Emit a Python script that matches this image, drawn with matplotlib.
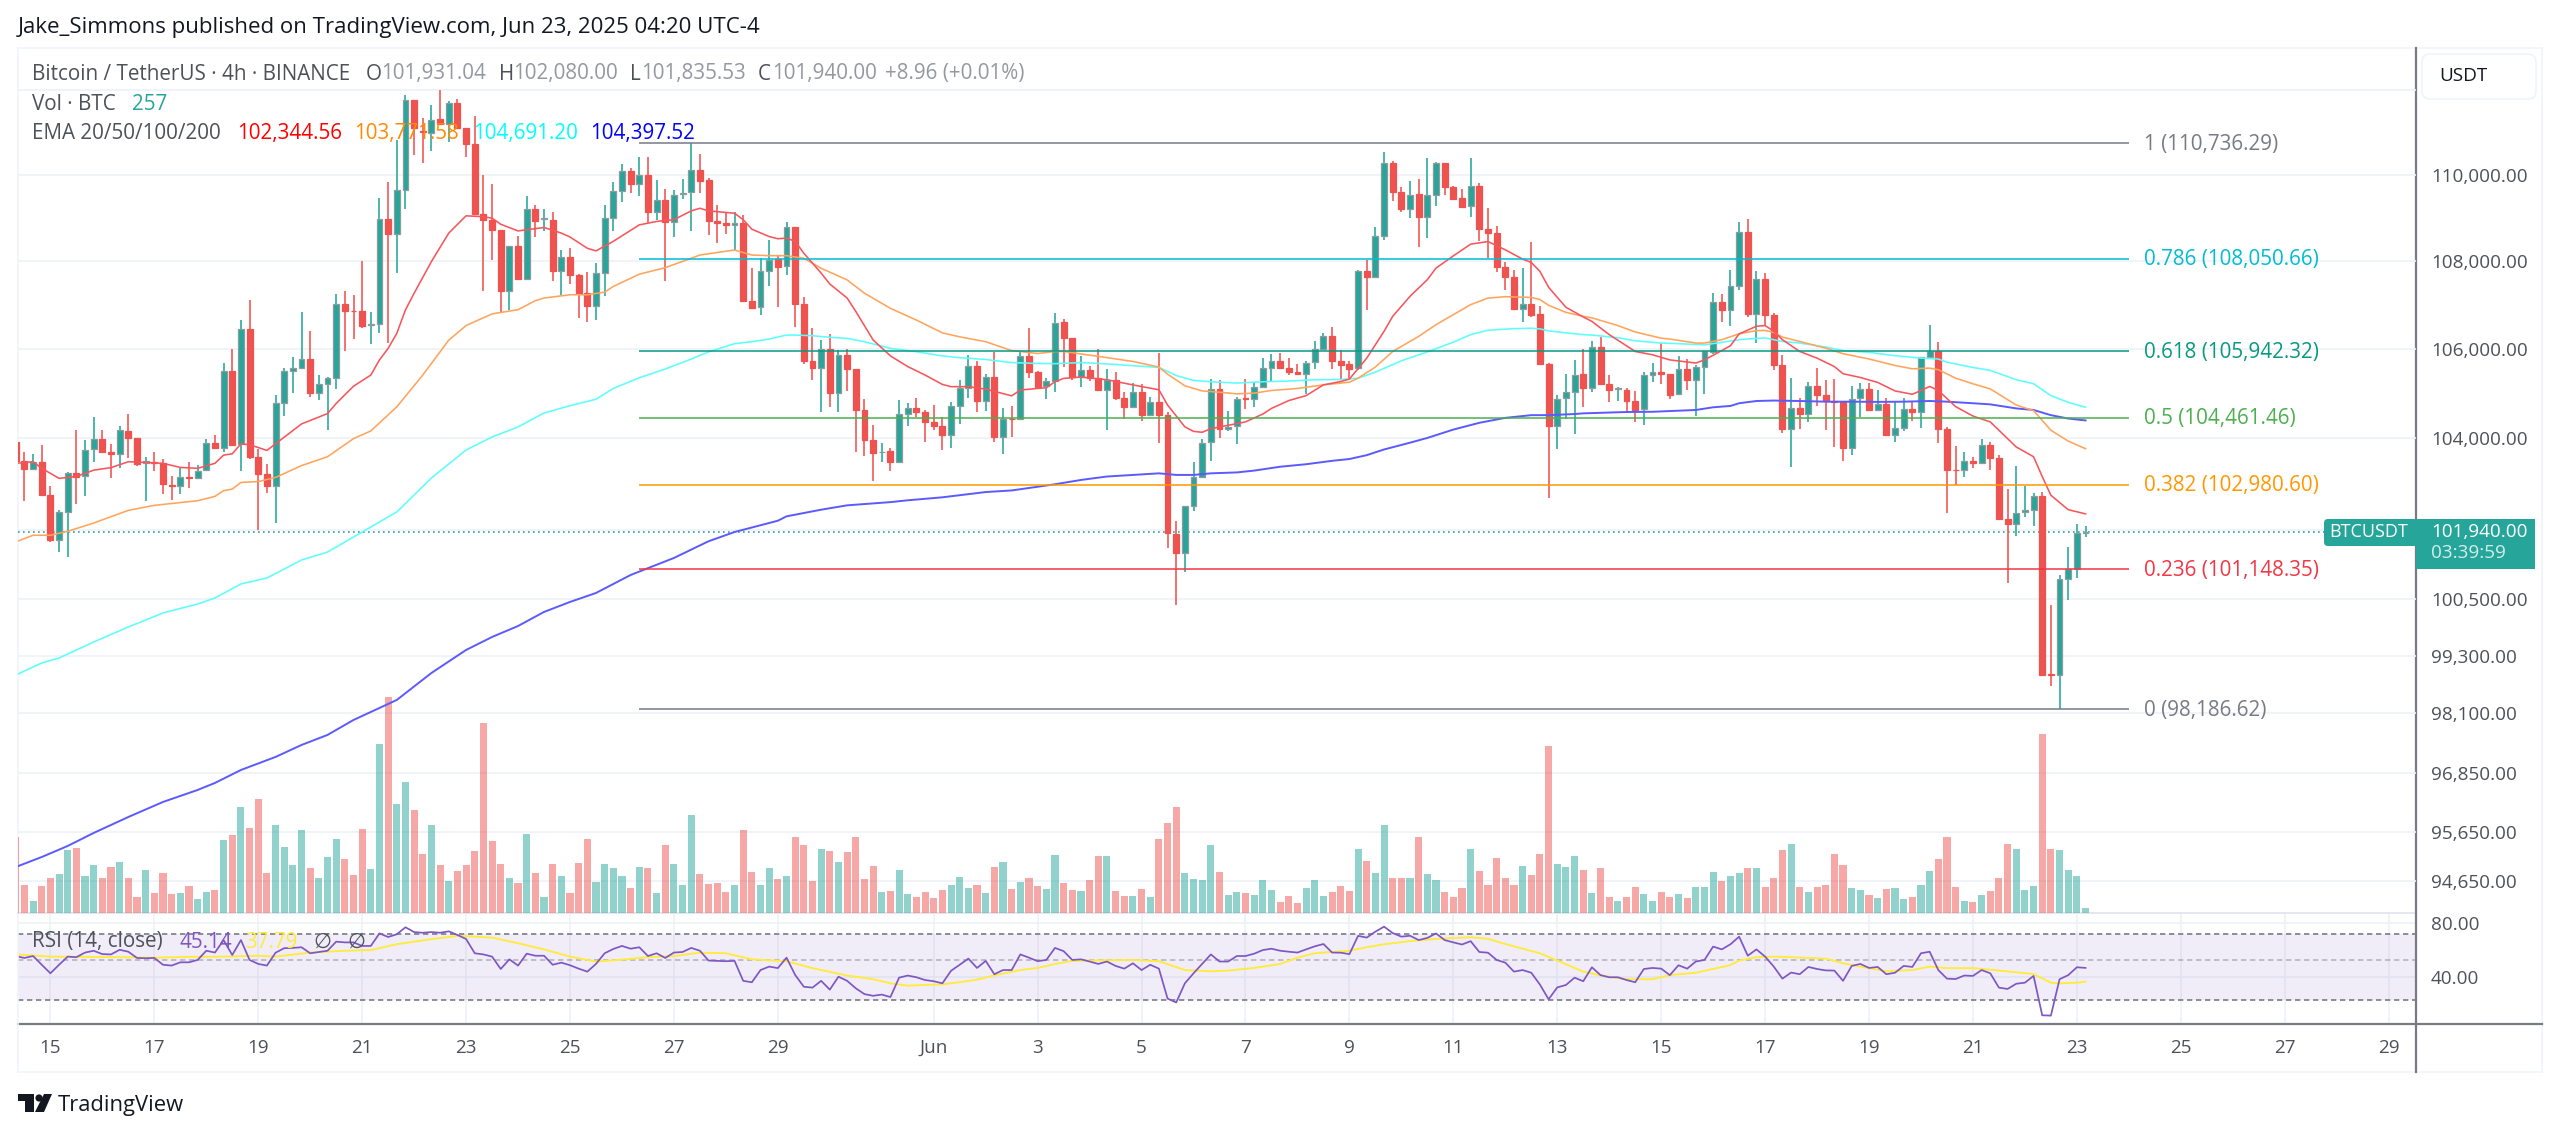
# file: plot.py
# purpose: BTCUSDT 4h candlestick chart with EMAs, fib levels, volume and RSI

import matplotlib

matplotlib.use("Agg")
import matplotlib.pyplot as plt
import numpy as np
from matplotlib.lines import Line2D
from matplotlib.patches import Circle, FancyBboxPatch, Polygon, Rectangle
from matplotlib.transforms import IdentityTransform

FIG_W, FIG_H = 2560, 1135
plt.rcParams["font.family"] = ["Open Sans", "DejaVu Sans"]

# first visible bar, counted in 4h bars from May 15 00:00
BAR_START = -4

opens = [
    103920, 103500, 103320, 103485, 102760, 101780, 102375, 103245, 103170, 103760,
    103995, 103690, 103660, 104170, 104015, 103465, 103485, 103450, 102980, 102955,
    103150, 103135, 103305, 103905, 103790, 105500, 103875, 106440, 103600, 103215,
    102960, 104775, 105500, 105560, 105760, 105010, 105200, 105335, 107020, 106860,
    106845, 106540, 106555, 108960, 108615, 109630, 111770, 111030, 110980, 111300,
    111180, 111690, 111090, 110710, 109080, 108940, 108715, 107310, 108350, 107590,
    109200, 108970, 108940, 107770, 108080, 107680, 107260, 106960, 107720, 109000,
    109615, 110090, 109780, 109985, 109140, 109415, 108890, 109545, 109585, 110115,
    109870, 108930, 108870, 108830, 108870, 107085, 106945, 107760, 108040, 107880,
    108770, 107010, 105725, 105570, 106000, 105000, 105860, 105540, 104625, 103970,
    103695, 103725, 103490, 104535, 104680, 104590, 104365, 104270, 104065, 104710,
    105110, 105620, 104830, 105375, 104030, 104440, 104425, 105845, 105470, 105170,
    105275, 106605, 106240, 105365, 105530, 105350, 105080, 105305, 104905, 104690,
    105040, 104510, 104815, 104520, 101915, 101500, 102510, 103150, 103920, 105100,
    104210, 104280, 104900, 104870, 105150, 105560, 105725, 105560, 105480, 105435,
    105695, 105990, 106280, 105730, 105655, 105565, 107770, 107640, 108565, 110260,
    109585, 109205, 109545, 109010, 109530, 110260, 109720, 109445, 109260, 109740,
    108735, 108640, 107855, 107635, 106900, 107020, 106790, 105660, 104270, 104895,
    105040, 105430, 105110, 106050, 105215, 105095, 105080, 104840, 104645, 105415,
    105475, 105430, 104980, 105550, 105290, 105600, 105920, 107050, 106885, 107430,
    108660, 106790, 107590, 106755, 105640, 104215, 104680, 104540, 105170, 104965,
    104840, 104815, 103790, 104890, 105095, 104630, 104765, 104085, 104240, 104645,
    104590, 105805, 105960, 104200, 103310, 103310, 103495, 103450, 103860, 103560,
    102230, 102125, 102380, 102420, 102740, 98910, 98890, 100945, 101160, 101931.04,
]
highs = [
    103955, 103700, 103665, 103850, 102955, 102435, 103270, 104180, 103970, 104465,
    104180, 103885, 104280, 104540, 104015, 103580, 103690, 103545, 103180, 103340,
    103470, 103410, 103980, 104080, 105670, 105985, 106650, 107110, 103770, 103425,
    104960, 105560, 105825, 106830, 106410, 105410, 105375, 107240, 107315, 107210,
    108000, 106830, 109460, 109830, 110810, 111870, 111770, 111320, 111640, 111990,
    111730, 111790, 111090, 111390, 109985, 109790, 108715, 108350, 108570, 109510,
    109290, 109200, 109130, 108250, 108290, 107700, 107740, 107950, 109290, 109830,
    110240, 110160, 110420, 110420, 109885, 109660, 109640, 109905, 110736.29, 110485,
    109910, 109290, 109100, 109125, 109060, 107845, 108060, 108480, 108115, 108890,
    108770, 107165, 106465, 106200, 106330, 105970, 105990, 105540, 104870, 104290,
    103905, 103785, 104850, 104775, 104890, 104640, 104740, 104480, 104815, 105300,
    105870, 105725, 105425, 105935, 104665, 104725, 105950, 106480, 105500, 105350,
    106800, 106670, 106240, 105830, 105605, 106000, 105545, 105480, 105040, 105230,
    105215, 104915, 105900, 104590, 102180, 102510, 103470, 103980, 105330, 105295,
    104600, 104915, 105330, 105245, 105790, 105880, 105900, 105785, 105660, 105715,
    106165, 106355, 106490, 105980, 105715, 107795, 108020, 108785, 110530, 110315,
    109720, 109855, 109900, 110400, 110300, 110260, 109740, 109675, 110380, 109815,
    109220, 108810, 107985, 107780, 107830, 108440, 106960, 105690, 104965, 105430,
    105750, 105990, 106180, 106265, 105400, 105140, 105125, 105050, 105470, 105690,
    106130, 105430, 105840, 105770, 105640, 105960, 107260, 107250, 107780, 108890,
    108960, 107770, 107720, 106810, 105865, 105340, 104890, 105245, 105565, 105305,
    105320, 104815, 105155, 105230, 105230, 105080, 104890, 104815, 104890, 104815,
    105825, 106545, 106145, 104255, 103825, 103690, 103595, 103980, 103930, 103630,
    102885, 103390, 102960, 102810, 102830, 100370, 101020, 101620, 102130, 102080,
]
lows = [
    103410, 102615, 103320, 102725, 101730, 101520, 101410, 102555, 102725, 103470,
    103690, 103120, 103355, 103570, 103400, 102615, 103290, 102775, 102650, 102775,
    102905, 103110, 103305, 103775, 103700, 103845, 103285, 103545, 102000, 102800,
    102145, 104500, 105010, 105545, 104925, 104850, 104195, 105090, 105950, 106210,
    106465, 106100, 106350, 106125, 107730, 109190, 110460, 110270, 110560, 111180,
    110770, 111090, 110410, 109080, 107320, 108010, 106800, 106870, 107590, 107590,
    108550, 108700, 107530, 107210, 107470, 106700, 106610, 106650, 107190, 108690,
    109370, 109560, 109510, 108870, 108950, 107550, 108560, 109430, 108690, 109575,
    108600, 108415, 108630, 108255, 107050, 106930, 106770, 107430, 106945, 107680,
    106490, 105660, 105310, 104580, 104705, 104590, 105045, 103695, 103620, 103070,
    103485, 103290, 103490, 104275, 104465, 103920, 104180, 103740, 103790, 104310,
    104900, 104575, 104600, 103930, 103650, 104030, 104425, 105335, 105100, 104870,
    105040, 105600, 105290, 105140, 105270, 105080, 104180, 104850, 104420, 104670,
    104390, 104495, 103900, 101600, 100370, 101080, 102400, 103150, 103510, 104005,
    104165, 103880, 104645, 104705, 105150, 105270, 105560, 105410, 105435, 104990,
    105545, 105975, 105545, 105315, 105315, 105530, 106870, 107630, 108470, 109390,
    109120, 108995, 108330, 108520, 109260, 109530, 109400, 109215, 109015, 108450,
    108060, 107740, 107325, 106885, 106600, 106710, 105660, 102690, 103775, 104440,
    104105, 104690, 105020, 105190, 104800, 104840, 104610, 104370, 104290, 105265,
    105205, 104870, 104980, 105080, 104500, 104980, 105890, 106600, 106510, 107330,
    106715, 106125, 106520, 105525, 104125, 103375, 104215, 104370, 104725, 104180,
    103810, 103500, 103640, 104465, 104615, 104630, 104085, 103920, 104165, 104390,
    104240, 105770, 103900, 102360, 102985, 103140, 103340, 103450, 103305, 102215,
    100845, 101855, 102275, 102090, 98890, 98660, 98186.62, 100490, 100955, 101835.53,
]
closes = [
    103500, 103320, 103485, 102760, 101780, 102375, 103245, 103140, 103750, 103995,
    103700, 103645, 104180, 104015, 103435, 103500, 103455, 102990, 102945, 103150,
    103120, 103290, 103905, 103790, 105500, 103860, 106440, 103600, 103215, 102960,
    104775, 105500, 105560, 105760, 105010, 105200, 105335, 107020, 106845, 106845,
    106525, 106555, 108960, 108615, 109630, 111770, 111090, 111010, 111280, 111180,
    111690, 111090, 110710, 109080, 108940, 108715, 107310, 108350, 107590, 109200,
    108930, 108985, 107770, 108080, 107680, 107260, 106960, 107720, 109000, 109615,
    110090, 109780, 109985, 109140, 109415, 108890, 109530, 109575, 110115, 109855,
    108930, 108870, 108825, 108870, 107085, 106930, 107760, 108020, 107865, 108770,
    107010, 105725, 105570, 106000, 105000, 105860, 105540, 104625, 103970, 103680,
    103710, 103490, 104530, 104680, 104590, 104365, 104270, 104065, 104710, 105110,
    105620, 104830, 105375, 104030, 104425, 104425, 105845, 105470, 105150, 105275,
    106590, 106240, 105365, 105515, 105335, 105080, 105290, 104890, 104690, 105040,
    104510, 104815, 104520, 101930, 101500, 102510, 103150, 103905, 105100, 104215,
    104255, 104870, 104885, 105140, 105560, 105725, 105560, 105480, 105435, 105680,
    105985, 106280, 105730, 105640, 105550, 107770, 107640, 108565, 110260, 109585,
    109200, 109530, 109010, 109530, 110260, 109720, 109430, 109245, 109740, 108735,
    108640, 107855, 107635, 106900, 107020, 106770, 105660, 104270, 104885, 105025,
    105420, 105110, 106050, 105215, 105080, 105110, 104840, 104630, 105400, 105475,
    105430, 104965, 105550, 105290, 105590, 105960, 107050, 106885, 107430, 108660,
    106790, 107590, 106755, 105640, 104215, 104680, 104540, 105170, 104965, 104840,
    104800, 103790, 104875, 105095, 104630, 104765, 104085, 104230, 104645, 104585,
    105805, 105955, 104200, 103295, 103295, 103495, 103450, 103860, 103560, 102230,
    102125, 102360, 102420, 102740, 98890, 98900, 100930, 101150, 101925, 101940,
]
volumes = [
    4100, 1490, 650, 1460, 1870, 2090, 3380, 3490, 2000, 2590,
    1870, 2480, 2770, 1870, 860, 2300, 1080, 2160, 1030, 1080,
    1460, 760, 1150, 1260, 3940, 4230, 5720, 4570, 6170, 2140,
    4770, 3560, 2590, 4500, 2410, 1870, 3020, 3980, 2930, 2050,
    4540, 2380, 9110, 11660, 5870, 7060, 5560, 3170, 4750, 2590,
    1730, 2270, 2570, 3330, 10260, 3890, 2660, 1870, 1620, 4270,
    2140, 850, 2660, 1980, 1060, 2700, 4010, 1670, 2630, 2430,
    1980, 1350, 2470, 2410, 1080, 3690, 2630, 1530, 5290, 2090,
    1580, 1620, 1150, 1530, 4500, 2210, 1490, 2410, 1840, 2020,
    4090, 3690, 1730, 3470, 3330, 2750, 3290, 4100, 1840, 2560,
    1150, 1190, 2300, 1030, 880, 1120, 810, 1220, 1490, 1940,
    1350, 1530, 1080, 2480, 2750, 1300, 1670, 1910, 1460, 1300,
    3130, 1600, 1260, 1190, 1800, 3060, 3100, 1190, 920, 920,
    1300, 880, 3980, 4840, 5720, 2180, 1840, 1800, 3670, 2210,
    950, 1150, 1080, 950, 1760, 1260, 610, 920, 540, 1350,
    1760, 920, 1120, 1460, 1190, 3470, 2830, 2140, 4730, 1870,
    1870, 1870, 4120, 2090, 1760, 1150, 850, 1350, 3470, 2250,
    1490, 2970, 1870, 1490, 2560, 2070, 3200, 9000, 2660, 2480,
    3100, 2320, 1080, 2410, 850, 650, 880, 1390, 1030, 650,
    1150, 880, 1030, 810, 1420, 1390, 2210, 1730, 2020, 2160,
    2410, 2410, 1390, 1910, 3400, 3710, 1390, 1120, 1420, 1530,
    3170, 2590, 1350, 1220, 950, 810, 1300, 1350, 770, 850,
    1530, 2290, 2900, 4120, 1420, 650, 580, 990, 1190, 1910,
    3710, 3440, 1220, 1460, 9670, 3470, 3400, 2320, 1980, 257,
]
rsi_values = [
    52.5, 51.3, 52.6, 47.0, 42.1, 47.0, 52.2, 51.8, 55.0, 56.3,
    53.9, 53.7, 57.0, 55.6, 51.3, 51.1, 51.3, 47.0, 46.5, 48.5,
    48.5, 50.0, 56.3, 55.0, 64.6, 53.3, 64.6, 50.0, 47.5, 46.5,
    54.9, 58.2, 58.4, 58.9, 54.5, 55.4, 56.3, 63.3, 62.7, 62.7,
    59.9, 59.9, 70.4, 67.2, 69.6, 76.2, 71.6, 71.0, 71.6, 71.0,
    72.3, 69.0, 65.5, 54.5, 53.7, 52.2, 44.5, 50.4, 46.5, 54.2,
    52.8, 52.8, 47.0, 48.3, 46.7, 44.7, 43.0, 47.5, 54.5, 57.6,
    59.9, 57.8, 58.9, 52.6, 54.5, 51.3, 55.0, 55.4, 58.4, 56.3,
    49.6, 49.4, 49.2, 49.4, 38.2, 37.5, 43.9, 45.9, 45.0, 51.5,
    41.2, 35.4, 35.0, 38.2, 34.1, 40.3, 38.2, 34.7, 32.2, 31.5,
    32.0, 31.0, 39.8, 40.9, 40.0, 38.6, 38.0, 37.0, 43.5, 47.0,
    50.9, 45.1, 49.4, 41.6, 43.9, 43.9, 53.7, 51.5, 49.2, 50.0,
    58.4, 56.0, 50.0, 50.4, 49.0, 47.5, 49.0, 46.3, 44.7, 47.9,
    43.9, 47.0, 44.7, 30.4, 28.9, 37.0, 42.1, 47.5, 53.7, 49.0,
    49.0, 52.6, 52.6, 54.2, 56.8, 57.8, 56.3, 55.6, 55.0, 57.3,
    59.6, 61.4, 55.0, 54.9, 53.9, 68.2, 66.7, 72.0, 76.8, 70.7,
    67.5, 68.3, 64.6, 66.4, 70.4, 64.6, 62.7, 61.0, 63.7, 55.4,
    54.9, 50.0, 48.3, 43.0, 43.9, 42.4, 36.4, 30.1, 35.1, 36.2,
    39.8, 38.0, 45.5, 41.1, 40.0, 40.0, 38.6, 37.5, 44.5, 45.1,
    44.7, 41.1, 46.7, 44.7, 49.0, 50.0, 59.4, 57.3, 61.2, 67.5,
    52.8, 57.3, 52.2, 45.9, 39.3, 42.5, 41.6, 45.7, 44.5, 43.7,
    43.6, 38.2, 46.3, 47.5, 45.1, 45.7, 41.6, 42.4, 46.3, 45.7,
    54.5, 55.6, 43.9, 39.3, 39.1, 40.9, 40.7, 43.9, 42.1, 35.0,
    34.4, 36.8, 37.3, 40.7, 24.5, 24.4, 39.0, 41.1, 45.5, 45.14,
]

rsi_ma_bars = [
    -4, 0, 4, 8, 12, 16, 20, 24, 26, 30, 34, 37, 40, 44, 47, 49, 51, 54, 57, 60,
    63, 66, 69, 72, 75, 78, 81, 85, 88, 92, 95, 97, 99, 103, 105, 107, 109, 112, 114, 116,
    118, 120, 122, 125, 128, 131, 134, 136, 139, 142, 144, 146, 148, 150, 152, 154, 157, 160, 164, 166,
    168, 172, 174, 177, 179, 182, 185, 187, 190, 194, 195, 197, 199, 201, 205, 207, 209, 212, 215, 217,
    219, 222, 225, 229, 231, 232, 234, 235,
]
rsi_ma_values = [
    53.7, 52.2, 52.0, 51.8, 51.5, 52.0, 52.2, 52.8, 52.2, 55.0, 56.3, 56.8, 61.2, 65.4, 68.2, 67.5, 66.7, 62.0, 57.3, 52.2,
    49.0, 50.2, 51.8, 52.6, 54.9, 54.5, 50.4, 49.2, 45.0, 40.9, 39.0, 37.0, 35.9, 36.5, 37.5, 38.8, 41.0, 43.9, 45.1, 47.5,
    49.4, 49.6, 49.8, 50.0, 49.2, 43.9, 43.2, 43.6, 45.1, 47.5, 51.5, 54.5, 55.4, 56.3, 58.9, 61.2, 63.7, 65.6, 67.0, 65.6,
    61.4, 54.5, 49.6, 43.0, 41.0, 39.0, 39.0, 41.1, 42.4, 46.8, 49.6, 51.8, 52.2, 51.8, 50.9, 47.9, 45.9, 43.2, 43.9, 45.9,
    45.0, 45.0, 43.6, 41.7, 37.3, 37.0, 37.3, 37.79,
]

ema20_bars = [
    -4, -2, -1, 1, 2, 3, 5, 7, 9, 11, 13, 15, 17, 19, 20, 21, 22, 23, 25, 26,
    29, 32, 33, 35, 37, 38, 39, 40, 41, 42, 44, 46, 48, 50, 51, 52, 54, 57, 59, 60,
    62, 63, 65, 68, 70, 72, 74, 75, 76, 79, 80, 81, 83, 84, 85, 86, 87, 89, 90, 92,
    93, 95, 97, 99, 101, 103, 104, 106, 108, 111, 112, 114, 115, 116, 117, 119, 122, 125, 128, 129,
    131, 132, 133, 134, 136, 138, 140, 141, 143, 145, 147, 149, 150, 152, 154, 155, 157, 159, 160, 162,
    164, 166, 168, 170, 171, 172, 173, 175, 177, 178, 180, 183, 185, 187, 190, 191, 193, 194, 195, 197,
    198, 199, 200, 202, 204, 206, 207, 209, 211, 213, 215, 216, 217, 218, 220, 222, 224, 225, 227, 229,
    230, 231, 233, 235,
]
ema20_values = [
    103450, 103485, 103340, 103120, 103140, 103160, 103300, 103355, 103485, 103470, 103450, 103360, 103340, 103450, 103630, 103660, 103880, 103860, 103735, 103880,
    104320, 104550, 104775, 105160, 105410, 105750, 106010, 106350, 106880, 107260, 107985, 108640, 109040, 109020, 108985, 108845, 108690, 108770, 108640, 108550,
    108290, 108230, 108450, 108830, 108910, 108950, 109155, 109215, 109155, 109100, 108950, 108730, 108560, 108510, 108525, 108450, 108175, 107720, 107470, 107150,
    106845, 106200, 105840, 105600, 105410, 105200, 105150, 105150, 105095, 104945, 105075, 105110, 105125, 105260, 105335, 105365, 105305, 105190, 105080, 104740,
    104255, 104155, 104135, 104215, 104290, 104365, 104540, 104665, 104840, 104950, 105190, 105265, 105320, 105790, 106395, 106735, 107190, 107570, 107835, 108115,
    108385, 108445, 108255, 108040, 107965, 107760, 107395, 106940, 106720, 106620, 106320, 105940, 105865, 105750, 105680, 105750, 105960, 106070, 106335, 106510,
    106525, 106395, 106205, 105940, 105790, 105600, 105440, 105355, 105245, 105055, 104980, 105065, 105155, 105065, 104705, 104495, 104365, 104180, 103810, 103595,
    103160, 102750, 102435, 102344.56,
]

ema50_bars = [
    -4, -2, 0, 2, 5, 9, 12, 17, 19, 20, 21, 22, 24, 26, 29, 32, 35, 37, 40, 43,
    46, 48, 51, 54, 56, 57, 60, 62, 64, 65, 68, 71, 74, 75, 79, 81, 83, 85, 87, 89,
    92, 94, 97, 100, 103, 105, 108, 111, 114, 116, 117, 121, 125, 128, 129, 131, 133, 135, 137, 139,
    141, 144, 147, 150, 151, 153, 155, 158, 160, 164, 166, 168, 171, 172, 173, 175, 177, 178, 181, 183,
    186, 187, 190, 191, 193, 195, 197, 198, 199, 200, 202, 205, 207, 210, 213, 215, 217, 218, 220, 222,
    224, 227, 229, 231, 233, 235,
]
ema50_values = [
    101737, 101880, 101880, 101965, 102145, 102420, 102530, 102630, 102725, 102850, 102885, 103030, 103050, 103140, 103400, 103595, 103995, 104165, 104700, 105410,
    106195, 106525, 106790, 106885, 107090, 107150, 107225, 107225, 107285, 107415, 107695, 107845, 108060, 108135, 108250, 108135, 108120, 108120, 108060, 107830,
    107565, 107260, 106915, 106650, 106360, 106270, 106160, 105960, 105895, 105940, 105940, 105830, 105715, 105590, 105430, 105170, 105055, 105025, 104990, 105005,
    105065, 105110, 105190, 105250, 105340, 105590, 105940, 106280, 106545, 107000, 107150, 107180, 107165, 107115, 106985, 106825, 106735, 106700, 106525, 106380,
    106240, 106220, 106130, 106130, 106205, 106340, 106410, 106415, 106370, 106265, 106165, 106015, 105890, 105770, 105625, 105550, 105565, 105530, 105340, 105215,
    105100, 104740, 104615, 104180, 103940, 103771.58,
]

ema100_bars = [
    -4, -1, 1, 5, 9, 13, 17, 19, 22, 25, 29, 32, 36, 40, 44, 48, 51, 54, 57, 60,
    63, 65, 68, 71, 74, 76, 79, 81, 83, 85, 86, 88, 90, 92, 94, 97, 100, 103, 105, 108,
    111, 114, 116, 119, 122, 125, 128, 130, 132, 134, 137, 140, 143, 146, 149, 151, 153, 156, 159, 162,
    164, 166, 169, 171, 172, 173, 175, 177, 178, 181, 183, 186, 188, 191, 193, 195, 197, 198, 200, 202,
    205, 207, 210, 213, 216, 218, 219, 222, 224, 227, 229, 231, 233, 235,
]
ema100_values = [
    98897, 99150, 99255, 99594, 99912, 100210, 100401, 100530, 100830, 100958, 101345, 101517, 101950, 102386, 103128, 103743, 104031, 104253, 104563, 104725,
    104870, 105110, 105350, 105545, 105770, 105930, 106115, 106160, 106220, 106310, 106310, 106295, 106260, 106235, 106160, 106010, 105935, 105840, 105800, 105760,
    105690, 105670, 105665, 105690, 105660, 105620, 105580, 105400, 105290, 105260, 105230, 105260, 105275, 105305, 105310, 105340, 105475, 105730, 105930, 106150,
    106320, 106420, 106455, 106465, 106450, 106405, 106360, 106320, 106310, 106250, 106180, 106130, 106115, 106090, 106145, 106205, 106235, 106245, 106165, 106130,
    106040, 105960, 105920, 105845, 105790, 105770, 105700, 105580, 105515, 105305, 105215, 104950, 104800, 104691.20,
]

ema200_bars = [
    -4, -1, 2, 5, 9, 13, 17, 19, 22, 26, 29, 32, 35, 37, 40, 44, 48, 51, 54, 57,
    60, 63, 67, 72, 76, 79, 84, 85, 89, 92, 97, 99, 103, 108, 111, 116, 119, 122, 125, 128,
    130, 132, 134, 137, 139, 142, 145, 148, 150, 152, 154, 157, 159, 162, 165, 168, 171, 173, 176, 177,
    182, 185, 190, 192, 194, 195, 197, 199, 202, 205, 208, 211, 214, 217, 219, 222, 224, 227, 229, 231,
    233, 235,
]
ema200_values = [
    94941, 95143, 95367, 95631, 95956, 96263, 96509, 96653, 96920, 97189, 97437, 97645, 97956, 98123, 98374, 98940, 99425, 99700, 99933, 100232,
    100445, 100637, 101023, 101389, 101750, 101950, 102195, 102290, 102435, 102530, 102600, 102640, 102705, 102820, 102855, 102990, 103085, 103160, 103195, 103230,
    103195, 103195, 103230, 103250, 103290, 103375, 103430, 103505, 103545, 103630, 103755, 103905, 104010, 104195, 104345, 104455, 104515, 104515, 104540, 104555,
    104585, 104590, 104630, 104690, 104720, 104780, 104830, 104840, 104830, 104815, 104815, 104810, 104815, 104830, 104815, 104780, 104755, 104665, 104630, 104515,
    104440, 104397.52,
]

fib_ratios = ["1", "0.786", "0.618", "0.5", "0.382", "0.236", "0"]
fib_prices = [110736.29, 108050.66, 105942.32, 104461.46, 102980.60, 101148.35, 98186.62]
fib_colors = ["#787b86", "#00bcd4", "#089981", "#4caf50", "#ff9800", "#f23645", "#787b86"]
FIB_START_BAR = 68
FIB_END_BAR = 240

price_ticks = [112000, 110000, 108000, 106000, 104000, 102000, 100500, 99300, 98100, 96850, 95650, 94650]
price_tick_labels = ["", "110,000.00", "108,000.00", "106,000.00", "104,000.00", "",
                     "100,500.00", "99,300.00", "98,100.00", "96,850.00", "95,650.00", "94,650.00"]
rsi_ticks = [80, 40]
rsi_tick_labels = ["80.00", "40.00"]
rsi_levels = [70, 50, 30]

# days since May 15 for each date label
date_tick_days = [0, 2, 4, 6, 8, 10, 12, 14, 17, 19, 21, 23, 25, 27, 29, 31, 33, 35, 37, 39, 41, 43, 45]
date_tick_labels = ["15", "17", "19", "21", "23", "25", "27", "29", "Jun", "3", "5", "7", "9",
                    "11", "13", "15", "17", "19", "21", "23", "25", "27", "29"]
BARS_PER_DAY = 6
LAST_PRICE = 101940.00

GREEN = "#26a69a"
RED = "#ef5350"
GRID = "#edf1f6"
TEXT = "#4f5159"
BORDER = "#f0f3fa"
AXIS_LINE = "#787b86"
FONT = 13.6
LEGEND_FONT = 14.9
GRID_LW = 1.2
LINE_LW = 1.15


def px_x(x):
    return x / FIG_W


def px_y(y):
    return 1 - y / FIG_H


def pane_axes(fig, left, top, right, bottom, **kwargs):
    """Add an axes from picture pixel edges."""
    rect = [px_x(left), px_y(bottom), (right - left) / FIG_W, (bottom - top) / FIG_H]
    return fig.add_axes(rect, **kwargs)


def put_text(fig, x, y, text, color=TEXT, size=LEGEND_FONT, **kwargs):
    fig.text(px_x(x), px_y(y), text, color=color, fontsize=size, va="center", zorder=20, **kwargs)


def fig_line(fig, x0, y0, x1, y1, color, lw):
    fig.add_artist(Line2D([px_x(x0), px_x(x1)], [px_y(y0), px_y(y1)], color=color, lw=lw, zorder=0.5))


def draw_candles(ax, bars):
    """Draw wicks and bodies, coloured by close against open."""
    o, h, l, c = map(np.asarray, (opens, highs, lows, closes))
    up = c >= o
    for mask, color, edge in ((up, GREEN, "#8f9a9c"), (~up, RED, RED)):
        ax.vlines(bars[mask], l[mask], h[mask], color=color, lw=1.15, zorder=3)
        ax.bar(bars[mask], np.abs(c - o)[mask], bottom=np.minimum(o, c)[mask], width=0.68,
               color=color, edgecolor=edge, linewidth=0.9, zorder=4)


def draw_volume(ax_vol, bars):
    o, c = np.asarray(opens), np.asarray(closes)
    colors = np.where(c >= o, GREEN, RED)
    ax_vol.bar(bars, volumes, width=0.82, color=colors, alpha=0.5, linewidth=0, zorder=2)


def draw_emas(ax):
    series = [
        (ema200_bars, ema200_values, "#5a5aff", 1.4),
        (ema100_bars, ema100_values, "#5dfdfd", LINE_LW),
        (ema50_bars, ema50_values, "#ffa45c", LINE_LW),
        (ema20_bars, ema20_values, "#f7565c", LINE_LW),
    ]
    for x, y, color, lw in series:
        ax.plot(x, y, color=color, lw=lw, zorder=5, solid_joinstyle="round")


def draw_fib(ax):
    for ratio, price, color in zip(fib_ratios, fib_prices, fib_colors):
        ax.hlines(price, FIB_START_BAR, FIB_END_BAR, color=color, lw=1.1, zorder=6)
        ax.annotate(f"{ratio} ({price:,.2f})", (FIB_END_BAR + 1.7, price), xytext=(0, -0.8),
                    textcoords="offset points", color=color, fontsize=LEGEND_FONT, va="center", zorder=7)


def draw_legends(fig):
    put_text(fig, 18, 28, "Jake_Simmons published on TradingView.com, Jun 23, 2025 04:20 UTC-4",
             color="#131722", size=16)
    put_text(fig, 32, 74, "Bitcoin / TetherUS · 4h · BINANCE")
    for x, text in ((366, "O"), (499, "H"), (630, "L"), (758, "C")):
        put_text(fig, x, 74, text)
    for x, text in ((381, "101,931.04"), (513, "102,080.00"), (641, "101,835.53"),
                    (772, "101,940.00"), (885, "+8.96 (+0.01%)")):
        put_text(fig, x, 74, text, color="#9598a1")
    put_text(fig, 32, 104, "Vol · BTC")
    put_text(fig, 132, 104, "257", color=GREEN)
    put_text(fig, 32, 134, "EMA 20/50/100/200")
    for x, text, color in ((237, "102,344.56", "#ff0000"), (354, "103,771.58", "#ff8c00"),
                           (473, "104,691.20", "#00ffff"), (590, "104,397.52", "#0000ff")):
        put_text(fig, x, 134, text, color=color)
    put_text(fig, 32, 942, "RSI (14, close)")
    put_text(fig, 180, 942, "45.14", color="#7e57c2")
    put_text(fig, 245, 942, "37.79", color="#ffeb3b")
    put_text(fig, 313, 942, "∅")
    put_text(fig, 347, 942, "∅")


def draw_last_price_tag(fig):
    ident = IdentityTransform()
    fig.add_artist(FancyBboxPatch((2324, FIG_H - 546), 94, 27, boxstyle="round,pad=0,rounding_size=4",
                                  fc=GREEN, ec="none", transform=ident, zorder=15))
    fig.add_artist(Rectangle((2416, FIG_H - 569), 119, 50, fc=GREEN, ec="none", transform=ident, zorder=15))
    put_text(fig, 2329, 532, "BTCUSDT", color="white", size=13)
    put_text(fig, 2431, 532, "101,940.00", color="white", size=FONT)
    put_text(fig, 2431, 553, "03:39:59", color="#d4edeb", size=FONT)


def draw_corner_items(fig):
    ident = IdentityTransform()
    fig.add_artist(FancyBboxPatch((2422, FIG_H - 99), 114, 45, boxstyle="round,pad=0,rounding_size=8",
                                  fc="white", ec=BORDER, lw=1.2, transform=ident, zorder=2))
    put_text(fig, 2439, 76, "USDT", color="#131722", size=FONT)
    logo = [
        [(18, 1094), (34, 1094), (34, 1112), (25, 1112), (25, 1101), (18, 1101)],
        [(44, 1094), (52, 1094), (44, 1112), (35, 1112)],
    ]
    for shape in logo:
        fig.add_artist(Polygon([(x, FIG_H - y) for x, y in shape], fc="#131722", ec="none", transform=ident))
    fig.add_artist(Circle((39, FIG_H - 1098), 3.6, fc="#131722", ec="none", transform=ident))
    put_text(fig, 58, 1105, "TradingView", color="#131722", size=15.8)


def draw_frame(fig):
    fig_line(fig, 18, 48, 2542, 48, BORDER, GRID_LW)
    fig_line(fig, 18, 48, 18, 1072, BORDER, GRID_LW)
    fig_line(fig, 2542, 48, 2542, 1072, BORDER, GRID_LW)
    fig_line(fig, 18, 1072, 2542, 1072, BORDER, GRID_LW)
    fig_line(fig, 18, 913, 2416, 913, "#e0e3eb", GRID_LW)


def main():
    fig = plt.figure(figsize=(FIG_W / 100, FIG_H / 100), dpi=100, facecolor="white")
    draw_frame(fig)

    bars = np.arange(BAR_START, BAR_START + len(closes))
    date_ticks = [d * BARS_PER_DAY for d in date_tick_days]
    xlim = (-3.741, 273.16)

    ax = pane_axes(fig, 18, 48, 2416, 913)
    ax.set_yscale("log")
    ax.set_ylim(94017, 113001)
    ax.set_xlim(*xlim)
    ax.set_xticks(date_ticks)

    # volume pane sits underneath, and carries the grid so bars tint over it
    ax_vol = ax.twinx()
    ax_vol.set_zorder(2)
    ax_vol.set_ylim(0, 46710)
    ax_vol.set_yticks([])
    ax_vol.grid(axis="x", color=GRID, lw=GRID_LW, zorder=1)
    ax_vol.set_axisbelow(True)
    ax_vol.hlines(price_ticks, 0, 1, transform=ax.get_yaxis_transform(), color=GRID, lw=GRID_LW, zorder=1)
    ax_vol.set_ylim(0, 46710)
    ax_vol.set_xlim(*xlim)
    for spine in ax_vol.spines.values():
        spine.set_visible(False)
    draw_volume(ax_vol, bars)

    # twinx moves the price labels to the left, so put them right afterwards
    ax.yaxis.tick_right()
    ax.set_yticks(price_ticks)
    ax.set_yticklabels(price_tick_labels)
    ax.minorticks_off()
    ax.tick_params(axis="y", length=0, pad=10.8, labelsize=FONT, labelcolor=TEXT)
    ax.tick_params(axis="x", length=0, labelbottom=False)
    ax.patch.set_visible(False)
    ax.set_zorder(3)
    for spine in ax.spines.values():
        spine.set_visible(False)

    ax.hlines(LAST_PRICE, xlim[0], xlim[1], color=GREEN, lw=1.2, linestyle=(0, (1, 2)), zorder=2)
    draw_candles(ax, bars)
    draw_emas(ax)
    draw_fib(ax)

    ax_rsi = pane_axes(fig, 18, 914, 2416, 1024, sharex=ax)
    ax_rsi.set_yscale("log")
    ax_rsi.set_ylim(21.9, 90.4)
    ax_rsi.yaxis.tick_right()
    ax_rsi.set_yticks(rsi_ticks)
    ax_rsi.set_yticklabels(rsi_tick_labels)
    ax_rsi.minorticks_off()
    ax_rsi.set_xticks(date_ticks)
    ax_rsi.set_xticklabels(date_tick_labels)
    ax_rsi.tick_params(axis="y", length=0, pad=10.8, labelsize=FONT, labelcolor=TEXT)
    ax_rsi.tick_params(axis="x", length=0, pad=11, labelsize=FONT, labelcolor=TEXT)
    ax_rsi.grid(color=GRID, lw=GRID_LW)
    ax_rsi.set_axisbelow(True)
    ax_rsi.set_xlim(*xlim)
    for name, spine in ax_rsi.spines.items():
        spine.set_visible(name == "bottom")
    ax_rsi.spines["bottom"].set_color(AXIS_LINE)
    ax_rsi.spines["bottom"].set_linewidth(1.6)
    ax_rsi.axhspan(rsi_levels[2], rsi_levels[0], color="#7e57c2", alpha=0.1, lw=0)
    for level, alpha in zip(rsi_levels, (1.0, 0.5, 1.0)):
        ax_rsi.axhline(level, color=AXIS_LINE, lw=1.2, ls=(0, (3.2, 2.2)), alpha=alpha, zorder=2)
    ax_rsi.plot(bars, rsi_values, color="#7e57c2", lw=1.25, zorder=4)
    ax_rsi.plot(rsi_ma_bars, rsi_ma_values, color="#ffeb3b", lw=1.35, zorder=3)

    fig_line(fig, 2416, 48, 2416, 1072, AXIS_LINE, 1.6)
    fig_line(fig, 2416, 1024, 2542, 1024, AXIS_LINE, 1.6)

    draw_legends(fig)
    draw_last_price_tag(fig)
    draw_corner_items(fig)

    fig.savefig("out.png", dpi=100)
    plt.close(fig)


if __name__ == "__main__":
    main()
